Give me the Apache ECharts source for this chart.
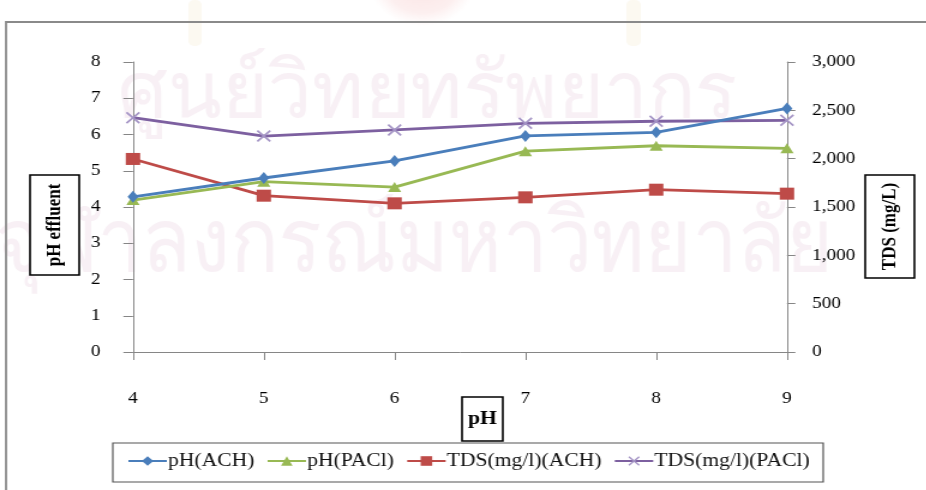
<!DOCTYPE html>
<html>
<head>
<meta charset="utf-8">
<script src="https://cdn.jsdelivr.net/npm/echarts@6/dist/echarts.min.js"></script>
<style>
  html, body { margin: 0; padding: 0; background: #ffffff; }
  #wrap { position: absolute; left: 0; top: 0; width: 926px; height: 490px; overflow: hidden; }
  /* the figure is horizontally widened, so the chart is laid out narrower and stretched */
  #chart { position: absolute; left: 0; top: 0; width: 772px; height: 490px;
           transform: scaleX(1.2); transform-origin: 0 0; }
</style>
</head>
<body>
<div id="wrap"><div id="chart"></div></div>
<script>
// pH of the raw water (x axis)
const categories = ['4', '5', '6', '7', '8', '9'];

// effluent pH
const phACH  = [4.28, 4.80, 5.27, 5.96, 6.06, 6.72];
const phPACl = [4.19, 4.70, 4.55, 5.54, 5.69, 5.62];

// effluent TDS, mg/l
const tdsACH  = [1997, 1617, 1538, 1600, 1679, 1638];
const tdsPACl = [2424, 2234, 2297, 2366, 2387, 2397];

const seriesNames = ['pH(ACH)', 'pH(PACl)', 'TDS(mg/l)(ACH)', 'TDS(mg/l)(PACl)'];

const serif = '"Liberation Serif", "Times New Roman", serif';
const axisGray = '#868686';
const crossPath = 'path://M0,1L1,0L10,9L9,10Z M9,0L10,1L1,10L0,9Z';

const chart = echarts.init(document.getElementById('chart'), null, { renderer: 'canvas' });

function boxedTitle(x, y, w, h, text, rotate, fontSize) {
  return [
    { type: 'rect', shape: { x: x, y: y, width: w, height: h },
      style: { fill: '#ffffff', stroke: '#000000', lineWidth: 1.6 }, z: 10 },
    { type: 'text', x: x + w / 2, y: y + h / 2, rotation: rotate ? Math.PI / 2 : 0,
      style: { text: text, font: 'bold ' + fontSize + 'px ' + serif, fill: '#000000',
               textAlign: 'center', textVerticalAlign: 'middle' }, z: 11 }
  ];
}

const stampFill = 'rgba(195, 120, 165, 0.11)';

const option = {
  backgroundColor: '#ffffff',
  animation: false,
  textStyle: { fontFamily: serif },
  grid: { left: 110.8, right: 116.2, top: 62, bottom: 138, containLabel: false },
  legend: {
    data: seriesNames,
    left: 106, top: 452,
    itemWidth: 32, itemHeight: 12, itemGap: 10,
    padding: 0,
    textStyle: { fontFamily: serif, fontSize: 18, color: '#111111', padding: [0, 0, 0, -4] }
  },
  xAxis: {
    type: 'category',
    data: categories,
    boundaryGap: false,
    axisLine: { lineStyle: { color: axisGray, width: 1 } },
    axisTick: { show: true, length: 8, lineStyle: { color: axisGray } },
    axisLabel: { margin: 39, fontFamily: serif, fontSize: 16, color: '#000000' },
    splitLine: { show: false }
  },
  yAxis: [
    {
      type: 'value', min: 0, max: 8, interval: 1,
      axisLine: { show: true, lineStyle: { color: axisGray, width: 1 } },
      axisTick: { show: true, length: 8, lineStyle: { color: axisGray } },
      axisLabel: { margin: 27, fontFamily: serif, fontSize: 16, color: '#000000' },
      splitLine: { show: false }
    },
    {
      type: 'value', min: 0, max: 3000, interval: 500, position: 'right',
      axisLine: { show: true, lineStyle: { color: axisGray, width: 1 } },
      axisTick: { show: true, length: 7, lineStyle: { color: axisGray } },
      axisLabel: { margin: 21, fontFamily: serif, fontSize: 16, color: '#000000',
                   formatter: v => v.toLocaleString('en-US') },
      splitLine: { show: false }
    }
  ],
  series: [
    { name: seriesNames[0], type: 'line', yAxisIndex: 0, data: phACH,
      symbol: 'diamond', symbolSize: [9, 12], z: 5,
      lineStyle: { color: '#4a7ebb', width: 2.8 },
      itemStyle: { color: '#4a7ebb' } },
    { name: seriesNames[1], type: 'line', yAxisIndex: 0, data: phPACl,
      symbol: 'triangle', symbolSize: [11, 10], z: 4,
      lineStyle: { color: '#98b954', width: 2.8 },
      itemStyle: { color: '#98b954' } },
    { name: seriesNames[2], type: 'line', yAxisIndex: 1, data: tdsACH,
      symbol: 'rect', symbolSize: [12, 12], z: 3,
      lineStyle: { color: '#be4b48', width: 2.8 },
      itemStyle: { color: '#be4b48' } },
    { name: seriesNames[3], type: 'line', yAxisIndex: 1, data: tdsPACl,
      symbol: crossPath, symbolSize: [12, 12], z: 2,
      lineStyle: { color: '#7d60a0', width: 2.8 },
      itemStyle: { color: '#a595c6' } }
  ],
  graphic: [
    // faint library stamp behind the figure
    { type: 'text', x: 98, y: 135, scaleX: 0.82, z: -10, silent: true,
      style: { text: 'ศูนย์วิทยทรัพยากร', font: '80px "Noto Sans", "DejaVu Sans", sans-serif',
               fill: stampFill, textVerticalAlign: 'bottom' } },
    { type: 'text', x: -4, y: 290, scaleX: 0.76, z: -10, silent: true,
      style: { text: 'จุฬาลงกรณ์มหาวิทยาลัย', font: '88px "Noto Sans", "DejaVu Sans", sans-serif',
               fill: stampFill, textVerticalAlign: 'bottom' } },
    // emblem peeking in from the top edge
    { type: 'ellipse', shape: { cx: 352, cy: -18, rx: 128, ry: 44 }, z: -11, silent: true,
      style: { fill: new echarts.graphic.RadialGradient(0.5, 0.5, 0.5, [
        { offset: 0, color: 'rgba(225, 80, 80, 0.16)' },
        { offset: 0.7, color: 'rgba(230, 100, 100, 0.10)' },
        { offset: 1, color: 'rgba(240, 130, 130, 0)' }
      ]) } },
    { type: 'rect', shape: { x: 157, y: 0, width: 11, height: 46, r: 5 }, z: -11, silent: true,
      style: { fill: 'rgba(235, 210, 150, 0.13)' } },
    { type: 'rect', shape: { x: 522, y: 0, width: 12, height: 46, r: 5 }, z: -11, silent: true,
      style: { fill: 'rgba(235, 210, 150, 0.13)' } },
    // outer frame of the figure
    { type: 'rect', shape: { x: 5, y: 22, width: 900, height: 600 },
      style: { fill: 'none', stroke: '#8a8a8a', lineWidth: 1.8 }, z: 1 },
    // legend frame
    { type: 'rect', shape: { x: 94, y: 443, width: 592, height: 39 },
      style: { fill: 'none', stroke: '#555555', lineWidth: 1.2 }, z: 1 }
  ]
    .concat(boxedTitle(25, 175, 41, 100, 'pH effluent', true, 17))
    .concat(boxedTitle(721, 175, 41, 103, 'TDS (mg/L)', true, 17))
    .concat(boxedTitle(385, 397, 34, 44, 'pH', false, 18))
};

chart.setOption(option);
</script>
</body>
</html>
